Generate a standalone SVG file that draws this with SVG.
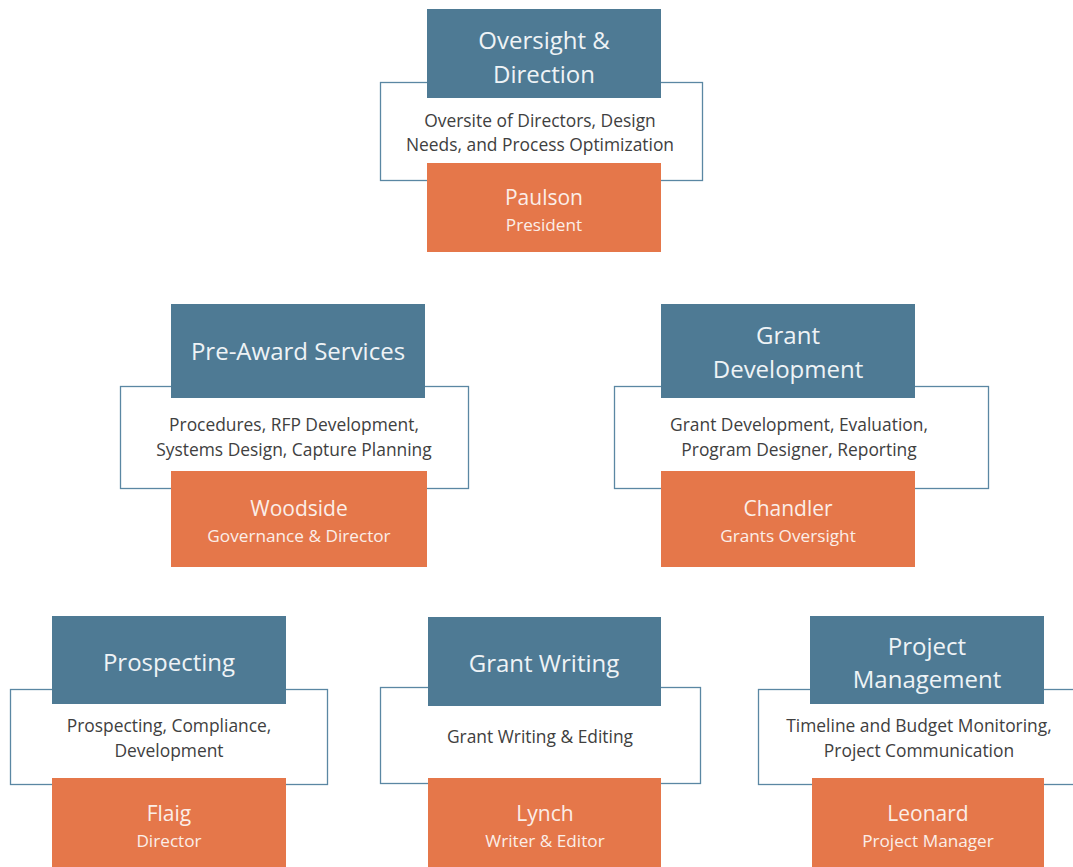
<svg xmlns="http://www.w3.org/2000/svg" width="1073" height="867" viewBox="0 0 1073 867">
<style>
.bg{fill:#ffffff}
.frame{fill:#ffffff;stroke:#5a87a3;stroke-width:1.3}
.head{fill:#4e7a94}
.name{fill:#e5774a}
text{font-family:"Open Sans","Noto Sans","Liberation Sans",sans-serif;text-anchor:middle}
.t{fill:#eef3f6;font-size:24px}
.d{fill:#404040;font-size:17.4px}
.n{fill:#fbeee8;font-size:21px}
.r{fill:#fbeee8;font-size:17.2px}
</style>
<rect class="bg" x="0" y="0" width="1073" height="867"/>
<g id="connectors"></g>

<g id="node-oversight">
<rect class="frame" x="380.5" y="82.5" width="322" height="98"/>
<rect class="head" x="427" y="9" width="234" height="89"/>
<rect class="name" x="427" y="163" width="234" height="89"/>
<text class="t" x="544" y="49">Oversight &amp;</text>
<text class="t" x="544" y="83">Direction</text>
<text class="d" x="540" y="127">Oversite of Directors, Design</text>
<text class="d" x="540" y="151">Needs,  and Process Optimization</text>
<text class="n" x="544" y="205">Paulson</text>
<text class="r" x="544" y="231">President</text>
</g>

<g id="node-preaward">
<rect class="frame" x="120.5" y="386.5" width="348" height="102"/>
<rect class="head" x="171" y="304" width="254" height="94"/>
<rect class="name" x="171" y="471" width="256" height="96"/>
<text class="t" x="298" y="360">Pre-Award Services</text>
<text class="d" x="294" y="431">Procedures, RFP Development,</text>
<text class="d" x="294" y="456">Systems Design,  Capture Planning</text>
<text class="n" x="299" y="516">Woodside</text>
<text class="r" x="299" y="542">Governance &amp; Director</text>
</g>

<g id="node-grantdev">
<rect class="frame" x="614.5" y="386.5" width="374" height="102"/>
<rect class="head" x="661" y="304" width="254" height="94"/>
<rect class="name" x="661" y="471" width="254" height="96"/>
<text class="t" x="788" y="344">Grant</text>
<text class="t" x="788" y="378">Development</text>
<text class="d" x="799" y="431">Grant Development,  Evaluation,</text>
<text class="d" x="799" y="456">Program Designer,  Reporting</text>
<text class="n" x="788" y="516">Chandler</text>
<text class="r" x="788" y="542">Grants Oversight</text>
</g>

<g id="node-prospecting">
<rect class="frame" x="10.5" y="689.5" width="317" height="95"/>
<rect class="head" x="52" y="616" width="234" height="88"/>
<rect class="name" x="52" y="778" width="234" height="89"/>
<text class="t" x="169" y="671">Prospecting</text>
<text class="d" x="169" y="732">Prospecting, Compliance,</text>
<text class="d" x="169" y="757">Development</text>
<text class="n" x="169" y="821">Flaig</text>
<text class="r" x="169" y="847">Director</text>
</g>

<g id="node-grantwriting">
<rect class="frame" x="380.5" y="687.5" width="320" height="96"/>
<rect class="head" x="428" y="617" width="233" height="89"/>
<rect class="name" x="428" y="778" width="233" height="89"/>
<text class="t" x="544" y="672">Grant Writing</text>
<text class="d" x="540" y="743">Grant Writing &amp; Editing</text>
<text class="n" x="545" y="821">Lynch</text>
<text class="r" x="545" y="847">Writer &amp; Editor</text>
</g>

<g id="node-projectmgmt">
<rect class="frame" x="758.5" y="689.5" width="330" height="95"/>
<rect class="head" x="810" y="616" width="234" height="88"/>
<rect class="name" x="812" y="778" width="232" height="89"/>
<text class="t" x="927" y="655">Project</text>
<text class="t" x="927" y="688">Management</text>
<text class="d" x="919" y="732">Timeline and Budget Monitoring,</text>
<text class="d" x="919" y="757">Project Communication</text>
<text class="n" x="928" y="821">Leonard</text>
<text class="r" x="928" y="847">Project Manager</text>
</g>
</svg>
